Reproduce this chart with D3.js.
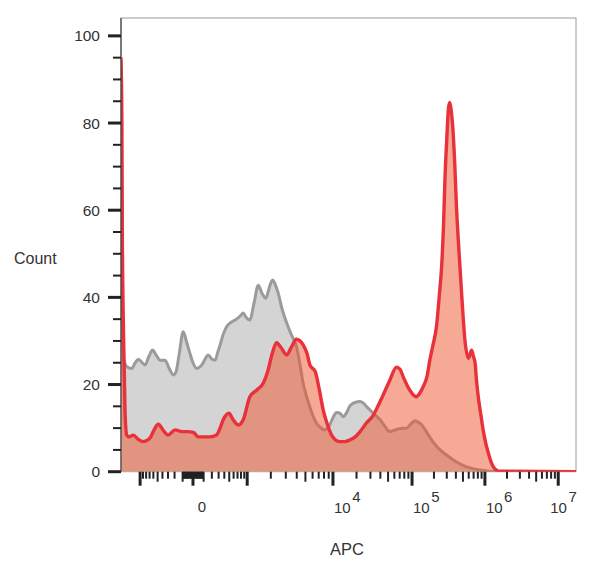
<!DOCTYPE html>
<html>
<head>
<meta charset="utf-8">
<script src="https://cdn.jsdelivr.net/npm/d3@7"></script>
<style>
  html, body { margin: 0; padding: 0; background: #fff; }
  text { font-family: "Liberation Sans", Arial, sans-serif; fill: #333; }
</style>
</head>
<body>
<svg id="chart" width="600" height="572"></svg>
<script>
// ---- Data (histogram counts at display channels, 0..1024 across the axis) ----
const isotypeChannels = [0,2,6,13,24,32,39,45,54,63,71,79,88,99,108,118,124,131,140,147,155,162,170,182,189,196,205,212,218,223,230,238,248,260,268,275,281,290,299,309,317,326,333,341,347,354,362,373,383,395,403,410,417,425,432,440,448,459,468,477,485,493,500,509,515,527,538,545,553,560,568,583,594,605,620,630,643,653,662,668,677,684,692,704,718,734,748,763,778,792,808,826,842,1024];
const isotypeCounts   = [60,40,26,24.1,23.7,25,25.8,25.3,24.5,26.5,27.9,26.8,25.6,25.6,23.8,22.2,23,27,32.1,30,27.2,25,23.7,24.5,25.8,26.8,25.8,25.6,27.5,29.1,31.5,33.3,34.3,35,35.7,36.4,35.5,34.8,38.5,42.8,41,39.8,42,44,43,40.9,37.5,34.1,31.5,28.7,24.5,20.3,17.5,14.9,12.8,11.1,10.2,9.6,10.4,12.4,13.6,13.4,12.6,13.8,15.1,15.9,16.1,15.8,14.9,14.2,13.4,11.9,10.4,9.2,9.7,9.9,10,11,11.7,11.4,10.7,9.7,8.4,6.6,5,3.7,2.7,1.8,1.1,0.7,0.4,0.1,0,0];

const stainedChannels = [0,2,3,6,9,13,18,28,38,50,65,74,84,95,106,122,137,149,163,174,200,215,223,230,243,252,264,275,290,305,320,331,340,350,360,373,383,395,410,419,425,437,446,455,464,474,484,493,504,515,527,538,551,568,578,590,605,620,628,635,650,664,671,680,689,695,702,710,716,722,726,729,733,737,740,743,746,751,755,761,767,774,782,785,789,793,797,800,804,810,815,821,827,833,838,846,853,1024];
const stainedCounts   = [95,80,55,30,14,8.4,8,8.4,7.5,6.9,7.7,9.5,10.9,9.5,8.4,9.6,9.2,9.2,9,8,8,8.4,10,11.9,13.4,12,10.7,11.9,17.2,18.7,20.3,23.3,27,29.6,28.5,26.8,28.5,30.4,29.1,27,24.5,23,19,14.2,11,8.4,7.2,6.9,6.9,7.3,8,9.2,11,13,15,17.6,21,24,23.5,21.8,18.7,17.2,17.8,19.5,22,25.6,29,33.3,40,47.8,57,67,76,83.4,84.7,83,80,71,60.8,50,40.2,30.2,26,26.8,27.9,26.5,24.9,21,17.2,13,9.6,6.5,4.2,2.2,1.1,0.3,0.1,0];

// ---- Axis definitions ----
const yTicks = [0, 20, 40, 60, 80, 100];
const yMinorTicks = d3.range(0, 101, 5);
const xMajorTicks = [-1e3, 0, 1e3, 1e4, 1e5, 1e6, 1e7];
const xLabelTicks = [0, 1e4, 1e5, 1e6, 1e7];
const xLabelExponents = [null, "4", "5", "6", "7"];
// logicle-like calibration: decade values -> display channel
const decadeAnchors = [-1e3, 0, 1e3, 1e4, 1e5, 1e6, 1e7];
const anchorChannels = [43, 162, 284, 477, 655, 819, 984];

// ---- Layout ----
const margin = { left: 121, top: 18 };
const W = 455, H = 453.7;
const svg = d3.select("#chart");
const g = svg.append("g").attr("transform", `translate(${margin.left},${margin.top})`);

const sym = v => Math.sign(v) * Math.log10(1 + Math.abs(v) / 300);
const logicle = d3.scaleLinear().domain(decadeAnchors.map(sym)).range(anchorChannels);
const x = d3.scaleLinear().domain([0, 1024]).range([0, W]);
const xv = v => x(logicle(sym(v)));
const y = d3.scaleLinear().domain([0, 104.1]).range([H, 0]);

// clip
svg.append("defs").append("clipPath").attr("id", "clip")
  .append("rect").attr("x", 0).attr("y", -2).attr("width", W).attr("height", H + 2);

// frame
g.append("rect").attr("x", 0).attr("y", 0).attr("width", W).attr("height", H)
  .attr("fill", "none").attr("stroke", "#9a9a9a").attr("stroke-width", 1);

const isoData = isotypeChannels.map((c, i) => [c, isotypeCounts[i]]);
const stainData = stainedChannels.map((c, i) => [c, stainedCounts[i]]);

const area = d3.area().x(d => x(d[0])).y0(y(0)).y1(d => y(d[1])).curve(d3.curveMonotoneX);
const line = d3.line().x(d => x(d[0])).y(d => y(d[1])).curve(d3.curveMonotoneX);

const plot = g.append("g").attr("clip-path", "url(#clip)");
plot.append("path").datum(isoData).attr("d", area).attr("fill", "#d4d4d4");
plot.append("path").datum(isoData).attr("d", line).attr("fill", "none")
  .attr("stroke", "#9b9b9b").attr("stroke-width", 3).attr("stroke-linejoin", "round");
plot.append("path").datum(stainData).attr("d", area).attr("fill", "rgb(238,84,44)").attr("fill-opacity", 0.5);
plot.append("path").datum(stainData).attr("d", line).attr("fill", "none")
  .attr("stroke", "#e8313a").attr("stroke-width", 3.4).attr("stroke-linejoin", "round");

// left axis line
g.append("line").attr("x1", 0).attr("x2", 0).attr("y1", 0).attr("y2", H)
  .attr("stroke", "#444").attr("stroke-width", 1.2);

// y ticks
g.selectAll(".yminor").data(yMinorTicks.filter(v => v % 20 !== 0)).join("line")
  .attr("x1", -8).attr("x2", 0).attr("y1", d => y(d)).attr("y2", d => y(d))
  .attr("stroke", "#222").attr("stroke-width", 2);
g.selectAll(".ymajor").data(yTicks).join("line")
  .attr("x1", -13).attr("x2", 0).attr("y1", d => y(d)).attr("y2", d => y(d))
  .attr("stroke", "#222").attr("stroke-width", 3);
g.selectAll(".ylab").data(yTicks).join("text")
  .attr("x", -21).attr("y", d => y(d)).attr("dy", "0.36em")
  .attr("text-anchor", "end").attr("font-size", 15.5).text(d => d);

// x ticks
const minor = [];
[100, 10].forEach(step => {
  for (let k = 1; k <= 9; k++) { minor.push(-k * step); minor.push(k * step); }
});
[1e3, 1e4, 1e5, 1e6].forEach(dec => { for (let k = 2; k <= 9; k++) minor.push(k * dec); });
const isMedium = v => [100, -100, 500, -500, 5e3, 5e4, 5e5, 5e6].includes(v);
g.selectAll(".xminor").data(minor).join("line")
  .attr("x1", d => xv(d)).attr("x2", d => xv(d))
  .attr("y1", H).attr("y2", d => H + (isMedium(d) ? 10 : 7))
  .attr("stroke", "#222").attr("stroke-width", 2);
g.selectAll(".xmajor").data(xMajorTicks).join("line")
  .attr("x1", d => xv(d)).attr("x2", d => xv(d))
  .attr("y1", H).attr("y2", H + 14)
  .attr("stroke", "#222").attr("stroke-width", 3);

// x labels
xLabelTicks.forEach((v, i) => {
  const exp = xLabelExponents[i];
  if (exp === null) {
    g.append("text").attr("x", xv(v) + 9).attr("y", H + 40)
      .attr("text-anchor", "middle").attr("font-size", 15).text("0");
  } else {
    const dx = v === 1e7 ? -8 : 1;
    const t = g.append("text").attr("x", xv(v) + dx).attr("y", H + 41.3)
      .attr("text-anchor", "start").attr("font-size", 15);
    t.append("tspan").text("10");
    t.append("tspan").attr("dy", -11).attr("dx", 1.5).text(exp);
  }
});

// axis titles
svg.append("text").attr("x", 14).attr("y", 264).attr("font-size", 16).text("Count");
svg.append("text").attr("x", 347).attr("y", 555).attr("text-anchor", "middle").attr("font-size", 16.5).text("APC");
</script>
</body>
</html>
